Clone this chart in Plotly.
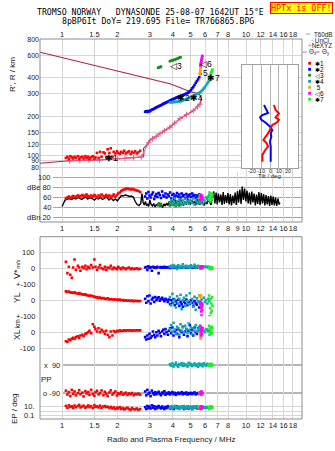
import math
import plotly.graph_objects as go

# ---------------- data ----------------
freq_ticks = [1, 1.5, 2, 3, 4, 5, 6, 7, 8, 10, 12, 14, 16, 18]
freq_ticks_mid = [1, 1.5, 2, 3, 4, 5, 6, 7, 8, 9, 10, 12, 14, 16, 18]
height_ticks = [80, 90, 100, 120, 150, 200, 300, 400, 600, 800]
dbe_ticks = [100, 80, 60, 40, 20]
dbe_labels = ["100", "dBe 80", "60", "40", "dBn 20"]
vstar_ticks, vstar_labels = [100, 0], ["100", "0"]
yl_ticks, yl_labels = [100, 0], ["+-100", "0"]
xl_ticks, xl_labels = [100, 0, -100], ["+-100", "0", "-100"]
ep_ticks, ep_labels = [10, 0.1], ["10.", "0.1"]
ep_grid = [0.1, 1, 10]
tilt_ticks = [-20, -10, 0, 10, 20]

# true-height profile (model) and NeXYZ points
profile_f = [0.75, 1.06, 1.6, 2.2, 2.77, 2.79, 2.77, 2.89, 3.01, 3.41, 3.86, 4.38, 5.17, 5.62, 5.74, 5.57, 4.96, 3.86, 0.76]
profile_h = [86.3, 89.9, 91.5, 94, 97, 103, 112.6, 119.5, 130.5, 147, 165, 193, 222, 250.6, 274, 300, 313, 360, 634]
nexyz_f = [1.1, 1.25, 1.4, 1.6, 1.8, 2.0, 2.2, 2.45, 2.7, 2.95, 3.1, 3.25, 3.41, 3.6, 3.86, 4.1, 4.38, 4.75, 5.17, 5.45, 5.62]
nexyz_h = [90.2, 90.7, 91.1, 91.5, 92.5, 93.2, 94, 95.3, 96.6, 125, 134, 140, 147, 155, 165, 178, 193, 207, 222, 238, 250]

# echo class 1 (red)
x1_f = [1.05,1.07,1.09,1.11,1.13,1.15,1.17,1.19,1.22,1.24,1.26,1.29,1.31,1.34,1.36,1.39,1.41,1.44,1.47,1.50,1.52,1.55,1.58,1.61,1.64,1.68,1.71,1.74,1.77,1.81,1.84,1.88,1.91,1.95,1.99,2.02,2.06,2.10,2.14,2.18,2.22,2.27,2.31,2.36,2.40,2.45,2.50,2.55,2.60,2.66]
x1_h = [95,97,93,98,96,94,97,95,98,93,96,97,94,98,95,97,93,96,98,94,96,104,95,106,97,105,103,96,111,104,113,97,106,103,107,104,102,106,104,108,103,105,107,102,106,104,107,103,105,108]
x1_db = [58,60,62,59,61,63,60,62,64,61,63,65,62,64,66,63,61,64,62,65,63,60,64,62,66,63,61,65,62,64,60,63,66,62,65,68,70,73,75,76,77,78,77,76,77,76,75,74,73,71]
x1_v = [40,-30,10,-40,-60,5,55,-10,15,5,-15,10,0,15,-5,10,0,20,5,55,10,-10,5,20,0,-5,10,-10,5,0,15,-5,5,0,-5,10,0,-5,5,0,-5,0,5,-5,0,-5,-3,0,-5,-3]
x1_yl = [56,52,55,50,48,46,50,44,42,45,40,38,35,37,32,30,28,30,25,22,20,18,15,17,12,14,10,8,12,6,8,5,7,3,5,2,4,0,2,-2,0,-3,-1,-4,-2,-5,-3,-4,-5,-4]
x1_xl = [-56,-60,-45,-50,-40,-35,-42,-30,-25,-35,-20,-15,-25,-10,-5,0,10,-5,50,35,20,5,25,0,15,5,-10,10,-15,-30,5,-20,8,0,10,5,12,8,10,12,10,13,11,12,10,12,11,13,12,12]
x1_pp = [-75,-100,-85,-110,-70,-95,-80,-105,-90,-72,-98,-88,-112,-78,-93,-84,-102,-70,-96,-108,-86,-76,-99,-91,-74,-104,-82,-95,-110,-87,-73,-100,-90,-80,-106,-92,-97,-85,-100,-95,-88,-102,-93,-98,-90,-104,-96,-99,-94,-101]
x1_ep = [15,6,20,9,12,5,18,8,14,25,7,11,16,6,10,19,8,13,5,22,9,12,7,17,6,11,14,8,10,5,9,4,7,3,6,4,8,3,5,2.5,4,6,3,2,5,3,2.5,4,2,3]

# echo class 2 (blue)
x2_f = [2.83,2.87,2.91,2.95,2.99,3.03,3.08,3.12,3.17,3.21,3.26,3.3,3.35,3.4,3.45,3.5,3.55,3.6,3.65,3.7,3.76,3.81,3.87,3.92,3.98,4.04,4.1,4.16,4.22,4.28,4.34,4.41,4.47,4.54,4.6,4.67,4.74,4.81,4.88,4.95,5.02,5.1,5.17,5.25,5.33,5.41,5.49,5.57,5.65]
x2_h = [218,220,217,221,219,223,226,228,230,233,236,238,240,243,245,248,251,253,256,258,261,264,266,269,272,274,277,280,282,285,287,289,291,293,296,299,302,305,309,315,322,332,340,352,366,378,390,405,430]
x2_db = [62,68,58,71,64,60,66,70,57,63,67,61,69,65,59,72,64,62,68,60,66,63,70,58,65,67,61,64,69,62,66,60,68,63,65,59,67,62,64,66,61,68,63,65,60,64,62,66,63]
x2_v = [5,8,-10,12,3,6,-15,10,4,7,2,9,-30,5,8,3,6,10,4,7,5,8,2,6,9,4,7,3,8,5,6,4,9,7,5,8,6,3,7,5,9,6,4,8,5,7,6,5,8]
x2_yl = [10,-15,25,-5,30,-20,5,15,-10,20,0,12,18,-2,8,15,5,-5,10,2,-10,5,-25,0,-15,8,-30,-5,-20,3,-35,-10,-25,-40,-8,-18,5,-30,-12,-22,0,-15,-35,-5,-20,-28,-10,-45,-15]
x2_xl = [-30,-45,-20,-40,-10,-35,-25,5,-15,-30,0,-20,10,-5,-25,5,15,-10,20,0,-15,10,25,-5,30,-20,5,15,-10,20,-30,10,0,35,-15,5,20,-25,10,45,-5,15,-20,30,0,-10,25,5,-15]
x2_pp = [-80,-105,-70,-95,-88,-110,-75,-92,-100,-85,-98,-90,-82,-96,-104,-87,-93,-79,-101,-90,-95,-86,-99,-91,-84,-97,-89,-102,-93,-88,-96,-92,-85,-98,-90,-94,-87,-100,-91,-95,-89,-97,-92,-86,-99,-93,-90,-96,-91]
x2_ep = [8,3,15,5,10,4,20,6,12,3,9,5,14,7,4,11,6,3,9,5,13,7,4,10,6,3,8,12,5,9,4,7,10,6,3,8,5,11,4,7,9,3,6,10,5,7,4,8,6]

# echo class 3 (green)
x3_f = [3.33,3.37,3.41,3.45,3.86,3.92,3.98,4.04,4.1,4.16,4.22,4.28,4.34,4.41]
x3_h = [480,483,486,490,540,545,548,552,556,560,565,570,575,580]
x3_db = [45,48,43,47,44,46,49,45,47,43,46,48,44,46]

# echo class 4 (teal)
x4_f = [3.86,3.92,3.98,4.04,4.1,4.16,4.22,4.28,4.34,4.41,4.47,4.54,4.6,4.67,4.74,4.81,4.88,4.95,5.02,5.1,5.17,5.25,5.33,5.41,5.49,5.57,5.65,5.73,5.81,5.9,5.98,6.07,6.16,6.25,6.32]
x4_h = [258,258,259,259,260,260,261,261,262,263,265,267,269,271,273,276,278,281,284,287,290,293,297,300,303,306,310,316,323,331,340,350,362,374,384]
x4_db = [50,55,47,52,58,45,53,49,56,51,46,54,48,57,50,53,47,55,52,49,58,46,54,51,48,56,50,53,47,55,52,60,57,62,65]
x4_v = [10,15,5,20,8,12,-4,18,6,14,9,25,3,11,16,7,13,4,19,10,8,22,5,12,15,6,10,9,12,8,10,11,7,9,8]
x4_yl = [20,-30,40,-10,5,-45,25,-20,10,35,-55,0,15,-35,30,-5,-25,44,-15,8,-40,22,-60,12,-8,30,-20,5,-30,15,-10,0,-20,10,-5]
x4_xl = [20,45,5,60,15,-10,35,25,-15,50,10,30,0,40,20,-5,55,15,30,-12,25,10,45,5,20,35,-5,15,25,10,0,20,15,5,10]
x4_pp = [95,85,100,80,92,105,88,78,96,90,102,84,98,87,93,80,104,89,97,83,91,100,86,94,79,99,88,95,82,101,90,86,97,92,88]
x4_ep = [6,12,4,9,15,5,8,11,3,7,10,6,14,4,8,12,5,9,7,3,11,6,8,13,5,9,4,7,10,6,8,5,9,6,7]

# echo class 5 (orange)
x5_f = [5.6,5.62,5.64,5.66,5.68,5.7]
x5_h = [430,442,455,468,482,496]
x5_db = [60,64,58,62,61,63]
x5_v = [0,2,-3,1,-2,3]
x5_yl = [30,25,28,20,32,26]
x5_xl = [0,-10,-25,-40,-15,-30]
x5_pp = [-90,-95,-85,-92,-88,-94]
x5_ep = [6,8,5,7,9,6]

# echo class 6 (magenta)
x6_f = [5.65,5.67,5.69,5.71,5.73,5.75,5.77,5.79]
x6_h = [500,512,525,538,552,566,580,594]
x6_db = [55,62,58,65,60,57,63,59]
x6_v = [5,10,0,8,3,12,6,2]
x6_yl = [-10,-30,-50,-70,-95,-40,-20,-60]
x6_xl = [40,20,0,-20,30,10,-10,25]
x6_pp = [-85,-95,-90,-100,-80,-92,-88,-96]
x6_ep = [5,10,3,8,4,12,6,7]

# echo class 7 (lime)
x7_f = [6.3,6.33,6.36,6.39,6.42,6.45,6.48,6.51,6.54,6.57]
x7_h = [392,400,408,416,424,432,440,448,456,465]
x7_db = [55,70,60,65,52,68,58,63,57,66]
x7_v = [0,5,-3,2,-5,3,-2,4,1,-1]
x7_yl = [30,-100,0,-50,10,-80,-20,-65,20,-35]
x7_xl = [40,-15,20,0,30,-10,10,35,-5,25]
x7_pp = [90,85,95,88,92,98,86,94,91,89]
x7_ep = [3,8,5,12,4,6,9,7,10,5]

# noise / amplitude trace (black)
noiseA_f = [1.0,1.02,1.04,1.07,1.1,1.13,1.16,1.19,1.22,1.25,1.28,1.31,1.35,1.38,1.42,1.46,1.5,1.54,1.58,1.62,1.66,1.7,1.75,1.8,1.85,1.9,1.95,2.0,2.05,2.1,2.15,2.2,2.26,2.32,2.38,2.44,2.5,2.56,2.62,2.68]
noiseA_db = [42,50,55,57,58,56,59,57,60,58,56,59,61,57,60,58,55,59,57,60,56,58,61,55,59,54,57,53,60,64,63,65,64,62,63,61,52,46,44,48]
noiseB_f = [2.72,2.76,2.8,2.84,2.88,2.92,2.96,3.0,3.05,3.1,3.15,3.2,3.25,3.3,3.35,3.4,3.46,3.52,3.58,3.64,3.7,3.76,3.82,3.88,3.94,4.0,4.07,4.14,4.21,4.28,4.35,4.42,4.5,4.58,4.66,4.74,4.82,4.9,4.98,5.07,5.16,5.25,5.34,5.43,5.52,5.62,5.72,5.82,5.92,6.02,6.13,6.24,6.35,6.46,6.57]
noiseB_db = [68,50,45,52,44,47,42,55,46,43,48,41,46,44,50,42,45,40,47,43,49,44,52,46,55,48,60,50,45,53,47,56,49,44,52,46,58,50,47,55,48,53,45,57,50,46,54,48,44,52,47,56,50,45,62]
noiseC_f = [6.68,6.78,6.88,6.98,7.08,7.19,7.3,7.41,7.52,7.63,7.74,7.86,7.98,8.1,8.22,8.34,8.47,8.6,8.73,8.86,8.99,9.12,9.26,9.4,9.54,9.68,9.83,9.98,10.13,10.28,10.43,10.59,10.75,10.91,11.07,11.24,11.41,11.58,11.75,11.93,12.11,12.29,12.47,12.66,12.85,13.04,13.24,13.44,13.64,13.84,14.05,14.26,14.47,14.69,14.91,15.13,15.3]
noiseC_db = [72,48,70,46,68,50,66,45,71,47,65,49,69,46,67,44,64,48,70,45,73,50,76,47,82,55,78,52,74,48,70,46,72,50,68,44,66,47,71,45,69,48,67,44,65,46,63,43,64,45,62,44,60,43,58,46,50]

# tilt inset
tiltx_h = [244,223,210,196,187,178,171,161,147,139,131,123,116,108,100,88.7]
tiltx_deg = [4.4,6.3,10,6.3,10,7.4,2.6,0.8,-2.2,-4.8,-7.4,-3.7,-2.2,-5.9,-8.5,-8.5]
tilty_h = [244,223,212,204,196,187,178,166,156,147,139,127,116,103,88.7]
tilty_deg = [-6.7,-3.7,-2.2,-8.5,-11.1,-9.6,-4.8,0,2.6,0.8,1.5,0,0.8,0.8,0.8]

# ---------------- layout helpers ----------------
W, H = 335, 451
ML, MR, MT, MB = 40, 33, 39, 32
PW = W - ML - MR
PH = H - MT - MB


def px(x):
    return (x - ML) / PW


def py(y):
    return (H - MB - y) / PH


RED, BLUE, GREEN, TEAL = "#ff0000", "#0000ff", "#1f8a1f", "#10a8a8"
ORANGE, MAGENTA, LIME = "#ffa500", "#ff00ff", "#22ee22"
MAROON, PINK = "#b0204c", "#e25c8c"
GRID = "#d6d6d6"
FRAME = "#8c8c8c"
TXT = "#1a1a1a"
FONT = "Liberation Sans"
MS = 2.6

fig = go.Figure()


def pts(xs, ys, color, xa, ya, size=MS):
    fig.add_trace(go.Scatter(
        x=xs, y=ys, mode="markers", xaxis=xa, yaxis=ya,
        marker=dict(symbol="square", size=size, color=color, line=dict(width=0)),
        showlegend=False, hoverinfo="skip"))


# ---- top panel: profile, NeXYZ, echoes
fig.add_trace(go.Scatter(x=profile_f, y=profile_h, mode="lines", xaxis="x", yaxis="y",
                         line=dict(color=MAROON, width=1.1), showlegend=False, hoverinfo="skip"))
fig.add_trace(go.Scatter(x=nexyz_f, y=nexyz_h, mode="lines+markers", xaxis="x", yaxis="y",
                         line=dict(color=PINK, width=1),
                         marker=dict(symbol="cross-thin-open", size=4, color=PINK,
                                     line=dict(width=1, color=PINK)),
                         showlegend=False, hoverinfo="skip"))

series = [
    (x1_f, x1_h, x1_db, x1_v, x1_yl, x1_xl, x1_pp, x1_ep, RED),
    (x2_f, x2_h, x2_db, x2_v, x2_yl, x2_xl, x2_pp, x2_ep, BLUE),
    (x3_f, x3_h, x3_db, None, None, None, None, None, GREEN),
    (x4_f, x4_h, x4_db, x4_v, x4_yl, x4_xl, x4_pp, x4_ep, TEAL),
    (x5_f, x5_h, x5_db, x5_v, x5_yl, x5_xl, x5_pp, x5_ep, ORANGE),
    (x6_f, x6_h, x6_db, x6_v, x6_yl, x6_xl, x6_pp, x6_ep, MAGENTA),
    (x7_f, x7_h, x7_db, x7_v, x7_yl, x7_xl, x7_pp, x7_ep, LIME),
]

for f, h, db, v, yl, xl, pp, ep, c in series:
    pts(f, h, c, "x", "y")

# ---- dBe panel
fig.add_trace(go.Scatter(x=noiseA_f + noiseB_f + noiseC_f, y=noiseA_db + noiseB_db + noiseC_db,
                         mode="lines", xaxis="x2", yaxis="y2",
                         line=dict(color="#000000", width=1.4), showlegend=False, hoverinfo="skip"))
for f, h, db, v, yl, xl, pp, ep, c in series:
    pts(f, db, c, "x2", "y2")

# ---- lower panels
for f, h, db, v, yl, xl, pp, ep, c in series:
    if v is None:
        continue
    pts(f, v, c, "x3", "y3")
    pts(f, yl, c, "x3", "y4")
    pts(f, xl, c, "x3", "y5")
    pts(f, pp, c, "x3", "y6")
    pts(f, ep, c, "x3", "y7")

# ---- tilt inset
fig.add_trace(go.Scatter(x=tilty_deg, y=tilty_h, mode="lines", xaxis="x4", yaxis="y8",
                         line=dict(color=BLUE, width=2), showlegend=False, hoverinfo="skip"))
fig.add_trace(go.Scatter(x=tiltx_deg, y=tiltx_h, mode="lines", xaxis="x4", yaxis="y8",
                         line=dict(color=RED, width=2), showlegend=False, hoverinfo="skip"))

# ---------------- axes ----------------
xr = [(ML - 62) / 184, (W - MR - 62) / 184]
TF = dict(size=7.5, color=TXT, family=FONT)
xcommon = dict(type="log", range=xr, domain=[0, 1], showgrid=True, gridcolor=GRID, gridwidth=1,
               zeroline=False, showline=False, ticks="", tickangle=0, tickfont=TF)

tick_txt = [str(t) for t in freq_ticks]
tick_txt_mid = [str(t) for t in freq_ticks_mid]
ycommon = dict(zeroline=False, ticks="", tickangle=0, tickfont=TF)

layout = dict(
    width=W, height=H,
    margin=dict(l=ML, r=MR, t=MT, b=MB, pad=0),
    paper_bgcolor="white", plot_bgcolor="white",
    font=dict(family=FONT, size=8, color=TXT),
    showlegend=False,
    xaxis=dict(xcommon, anchor="y", side="top", tickvals=freq_ticks, ticktext=tick_txt),
    xaxis2=dict(xcommon, anchor="y2", side="bottom", tickvals=freq_ticks_mid, ticktext=tick_txt_mid),
    xaxis3=dict(xcommon, anchor="y7", side="bottom", tickvals=freq_ticks, ticktext=tick_txt),
    yaxis=dict(ycommon, type="log", range=[1.868, 2.906], domain=[py(172), 1], anchor="x",
               tickvals=height_ticks, ticktext=[str(t) for t in height_ticks],
               showgrid=True, gridcolor=GRID, tickfont=dict(size=7, color=TXT, family=FONT)),
    yaxis2=dict(range=[11, 111], domain=[py(222), py(172)], anchor="x2",
                showgrid=False, zeroline=False, showticklabels=False, ticks=""),
    yaxis3=dict(ycommon, range=[-100, 197.5], domain=[py(284.3), py(236.7)], anchor="x3",
                tickvals=vstar_ticks, showticklabels=False, showgrid=True, gridcolor=GRID),
    yaxis4=dict(ycommon, range=[-100, 100], domain=[py(316.3), py(284.3)], anchor="x3",
                tickvals=yl_ticks, showticklabels=False, showgrid=True, gridcolor=GRID),
    yaxis5=dict(ycommon, range=[-123, 100], domain=[py(352), py(316.3)], anchor="x3",
                tickvals=xl_ticks, showticklabels=False, showgrid=True, gridcolor=GRID),
    yaxis6=dict(range=[-135, 173.6], domain=[py(400), py(352)], anchor="x3",
                showgrid=False, zeroline=False, showticklabels=False, ticks=""),
    yaxis7=dict(ycommon, type="log", range=[-1.733, 2.489], domain=[0, py(400)], anchor="x3",
                tickvals=ep_grid, showticklabels=False, showgrid=True, gridcolor=GRID),
    xaxis4=dict(range=[-31, 31], domain=[px(242.3), px(297.7)], anchor="y8",
                tickvals=[-30, -20, -10, 0, 10, 20, 30], showticklabels=False,
                showgrid=True, gridcolor="#b4b4b4", zeroline=False, ticks="",
                showline=True, mirror=True, linecolor="#a0a0a0", linewidth=1),
    yaxis8=dict(type="log", range=[1.8992, 2.6977], domain=[py(168), py(65)], anchor="x4",
                showgrid=False, zeroline=False, showticklabels=False, ticks="",
                showline=True, mirror=True, linecolor="#a0a0a0", linewidth=1),
)
fig.update_layout(**layout)

shapes = []
# white background for the tilt inset (drawn inside inset subplot, above main grid)
shapes.append(dict(type="rect", xref="x4", yref="y8", x0=-31, x1=31,
                   y0=10 ** 1.8992, y1=10 ** 2.6977, layer="below",
                   fillcolor="white", line=dict(width=0)))
# dBe grid lines
for t in dbe_ticks:
    shapes.append(dict(type="line", xref="paper", yref="y2", x0=px(53), x1=1, y0=t, y1=t,
                       line=dict(color="#9a9ae8" if t == 20 else "#a8a8a8", width=1), layer="below"))
# PP grid lines
for t in [90, -90]:
    shapes.append(dict(type="line", xref="paper", yref="y6", x0=px(63), x1=1, y0=t, y1=t,
                       line=dict(color="#6e6e6e", width=1), layer="below"))
# frames
shapes.append(dict(type="rect", xref="paper", yref="paper", x0=0, x1=1, y0=py(222), y1=1,
                   line=dict(color=FRAME, width=1), layer="above"))
shapes.append(dict(type="rect", xref="paper", yref="paper", x0=0, x1=1, y0=0, y1=py(236.7),
                   line=dict(color=FRAME, width=1), layer="above"))
# legend glyphs
shapes.append(dict(type="line", xref="paper", yref="paper", x0=px(305.5), x1=px(310.5),
                   y0=py(34), y1=py(34), line=dict(color="#a8a8a8", width=1)))
shapes.append(dict(type="line", xref="paper", yref="paper", x0=px(302.7), x1=px(306.7),
                   y0=py(52), y1=py(52), line=dict(color="#e07090", width=1)))
shapes.append(dict(type="line", xref="paper", yref="paper", x0=px(315.5), x1=px(319.5),
                   y0=py(52), y1=py(52), line=dict(color="#7070e0", width=1)))
legend_cols = [RED, BLUE, GREEN, TEAL, ORANGE, MAGENTA, LIME]
legend_txt = ["✱1", "✱2", "◁3", "✱4", " 5", "◁6", "✱7"]
legend_y = [63.3, 69.3, 75.2, 81.4, 87.3, 93.3, 99.3]
for c, yy in zip(legend_cols, legend_y):
    shapes.append(dict(type="rect", xref="paper", yref="paper", x0=px(308.2), x1=px(311),
                       y0=py(yy + 1.4), y1=py(yy - 1.4), fillcolor=c, line=dict(width=0)))
fig.update_layout(shapes=shapes)

ann = []


def A(text, x, y, xref="paper", yref="paper", size=8, xanchor="center", yanchor="middle",
      angle=0, color=TXT, family=FONT, **kw):
    ann.append(dict(text=text, x=x, y=y, xref=xref, yref=yref, showarrow=False,
                    xanchor=xanchor, yanchor=yanchor, textangle=angle,
                    font=dict(size=size, color=color, family=family), **kw))


MONO = "DejaVu Sans Mono"
A("TROMSO NORWAY\u00a0\u00a0\u00a0DYNASONDE 25-08-07 1642UT 15°E", px(35), py(12.2),
  size=8.2, xanchor="left", family=MONO, color="#000")
A("8pBP6It DoY= 219.695 File= TR766865.BPG", px(60), py(20.8),
  size=8.2, xanchor="left", family=MONO, color="#000")
A("HPTx is OFF!", px(333), py(1.5), size=8.4, xanchor="right", yanchor="top",
  family=MONO, color="#ff0000", bgcolor="#ffff00", bordercolor="#ff0000",
  borderwidth=1, borderpad=0)

# axis titles
A("R', R / km", px(13), py(75), size=8, angle=-90)
A("V*", px(17), py(274), size=9, angle=-90)
A("m/s", px(17), py(264.5), size=5.5, angle=-90)
A("YL", px(17), py(298), size=8.5, angle=-90)
A("km", px(17), py(323.5), size=7, angle=-90)
A("XL", px(17), py(335), size=8.5, angle=-90)
A("EP / deg", px(14), py(409), size=8, angle=-90)
A("PP", px(46.3), py(379), size=8)
A("Radio and Plasma Frequency / MHz", px(171), py(439), size=8)
A("Tilt / deg", px(269.5), py(176), size=6)

# velocity and EP tick labels (outside left)
for vals, labs, yr in [(vstar_ticks, vstar_labels, "y3"), (yl_ticks, yl_labels, "y4"),
                       (xl_ticks, xl_labels, "y5")]:
    for t, lab in zip(vals, labs):
        A(lab, px(37), t, yref=yr, size=7.5, xanchor="right")
for t, lab in zip(ep_ticks, ep_labels):
    A(lab, px(36), math.log10(t), yref="y7", size=7.5, xanchor="right")
# tilt inset tick labels
for t in tilt_ticks:
    A(str(t), t, py(170.5), xref="x4", size=5.5)
# dBe labels (inside)
for t, lab in zip(dbe_ticks, dbe_labels):
    A(lab, px(52.5), t, yref="y2", size=7.5, xanchor="right")
# PP labels
A("x  90", px(62), 90, yref="y6", size=7.5, xanchor="right")
A("o -90", px(62), -90, yref="y6", size=7.5, xanchor="right")

# echo labels in the top panel
lab_f = [1.86, 4.97, 4.17, 6.06, 6.0, 6.62]
lab_h = [95, 277, 500, 511, 434, 399]
lab_t = ["✱1", "✱2✱4", "◁3", "◁6", "5", "✱7"]
for ff, hh, tt in zip(lab_f, lab_h, lab_t):
    A(tt, math.log10(ff), math.log10(hh), xref="x", yref="y", size=8.5, color="#000")

# legend text
LS = 6.3
A("T60dB", px(311.5), py(34), size=LS, xanchor="left")
A("· UnCl", px(308.5), py(40), size=LS, xanchor="left")
A('<span style="color:#e25c8c">+</span>NeXYZ', px(306.5), py(46), size=LS, xanchor="left")
A("Θ<sub>x</sub>", px(306.8), py(52), size=LS, xanchor="left")
A("Θ<sub>y</sub>", px(319.8), py(52), size=LS, xanchor="left")
for t, yy in zip(legend_txt, legend_y):
    A(t, px(313), py(yy), size=6.4, xanchor="left", color="#000")

fig.update_layout(annotations=ann)
fig.write_html("out.html")
